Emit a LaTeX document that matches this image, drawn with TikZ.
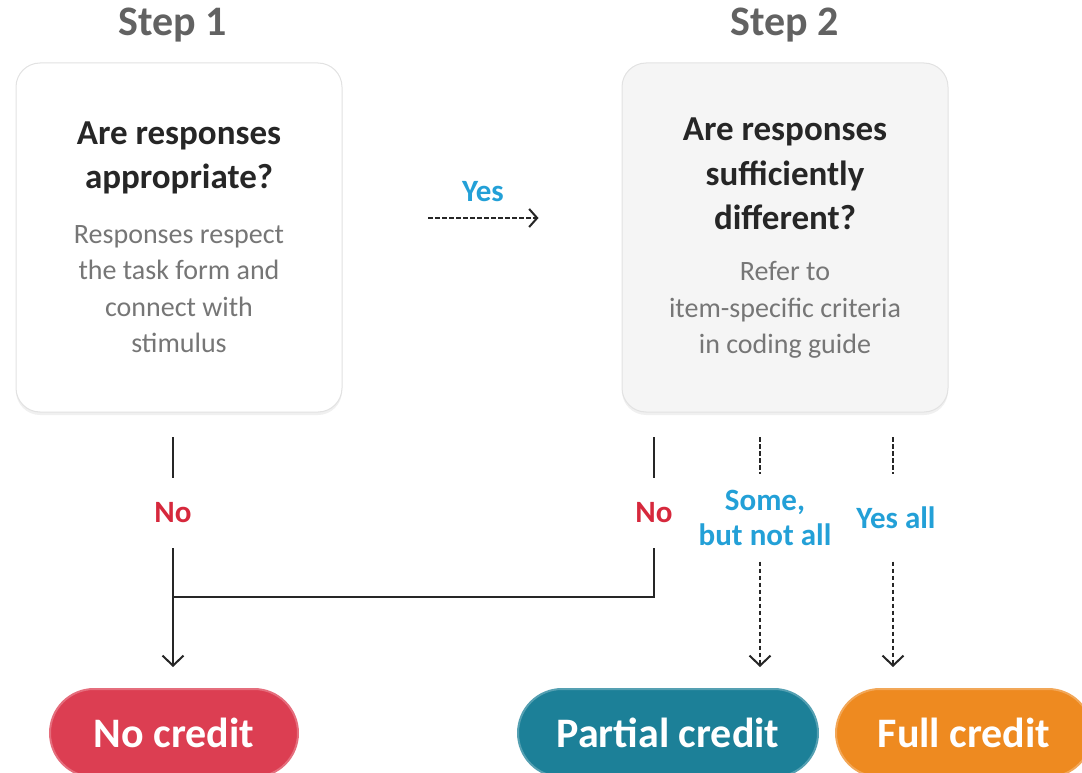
\documentclass[tikz,border=0pt]{standalone}
\usepackage{fontspec}
\setmainfont{Carlito}
\usetikzlibrary{arrows.meta,shadows,positioning}
\definecolor{ink}{RGB}{38,38,38}
\definecolor{steptxt}{RGB}{98,98,98}
\definecolor{bodytxt}{RGB}{118,118,118}
\definecolor{yesblue}{RGB}{35,160,215}
\definecolor{nored}{RGB}{214,40,60}
\definecolor{credred}{RGB}{220,62,82}
\definecolor{credteal}{RGB}{28,128,152}
\definecolor{credorange}{RGB}{238,138,32}
\definecolor{boxedge}{RGB}{226,226,226}
\definecolor{boxgray}{RGB}{245,245,245}

\begin{document}
\begin{tikzpicture}[x=1pt,y=-1pt,
  qbox/.style={draw=boxedge,line width=1pt,rounded corners=24pt,
     minimum width=326pt,minimum height=349pt,
     drop shadow={shadow xshift=0pt,shadow yshift=-3pt,opacity=0.12}},
  qtitle/.style={align=center,text=ink,font=\fontsize{35}{44.5}\selectfont\bfseries},
  qbody/.style={align=center,text=bodytxt,font=\fontsize{28}{36.5}\selectfont},
  steplab/.style={text=steptxt,font=\fontsize{42}{46}\selectfont\bfseries},
  nolab/.style={text=nored,font=\fontsize{31}{34}\selectfont\bfseries,
     inner sep=0pt,minimum height=70pt},
  oklab/.style={text=yesblue,align=center,font=\fontsize{31}{35}\selectfont\bfseries,
     inner sep=0pt,minimum height=87pt},
  pill/.style={rounded corners=44pt,minimum height=88pt,text=white,
     draw=white!25!#1,line width=2pt,fill=#1,
     font=\fontsize{42}{46}\selectfont\bfseries},
  solidln/.style={draw=ink,line width=2pt},
  dashln/.style={draw=ink,line width=2pt,dash pattern=on 4.5pt off 2.5pt},
  tip/.style={-{Straight Barb[length=10pt,width=21pt,line width=2pt]}},
  sidetip/.style={-{Straight Barb[length=8pt,width=18pt,line width=2pt]}}]
  \useasboundingbox (0,0) rectangle (1082,773);
  \clip (0,0) rectangle (1082,773);

  % steps and question boxes
  \node[steplab] (step1) at (173,25) {Step 1};
  \node[steplab] (step2) at (785,25) {Step 2};
  \node[qbox,fill=white] (q1) at (179,237.5) {};
  \node[qbox,fill=boxgray] (q2) at (785,237.5) {};
  \node[qtitle] (t1) at (179,158) {Are responses\\appropriate?};
  \node[qbody] (b1) at (179,289) {Responses respect\\the task form and\\connect with\\stimulus};
  \node[qtitle] (t2) at (785,174) {Are responses\\sufficiently\\different?};
  \node[qbody] (b2) at (785,310) {Refer to\\item-specific criteria\\in coding guide};

  % yes between the steps
  \node[oklab,minimum height=0pt] (yes) at (483,192) {Yes};
  \coordinate (ya) at (428,218);
  \draw[dashln,sidetip,shorten >=83pt] (ya) -- (ya -| q2.west);

  % branch labels
  \node[nolab] (no1) at (173,513) {No};
  \node[nolab] (no2) at (654,513) {No};
  \node[oklab] (some) at (765,518) {Some,\\but not all};
  \node[oklab] (yall) at (896,518) {Yes all};

  % outcomes
  \node[pill=credred,minimum width=248pt] (nocred) at (174,733) {No credit};
  \node[pill=credteal,minimum width=300pt] (partcred) at (668,733) {Partial credit};
  \node[pill=credorange,minimum width=256pt] (fullcred) at (964,733) {Full credit};

  % connectors
  \coordinate (s1) at (173,437);
  \coordinate (s2) at (654,437);
  \coordinate (s3) at (760,437);
  \coordinate (s4) at (893,437);
  \coordinate (jn) at (173,597);
  \draw[solidln] (s1) -- (s1 |- no1.north);
  \draw[solidln] (s2) -- (s2 |- no2.north);
  \draw[solidln,tip,shorten >=21pt] (s1 |- no1.south) -- (s1 |- nocred.north);
  \draw[solidln] (s2 |- no2.south) |- (jn);
  \draw[dashln] (s3) -- (s3 |- some.north);
  \draw[dashln] (s4) -- (s4 |- yall.north);
  \draw[dashln,tip,shorten >=21pt] (s3 |- some.south) -- (s3 |- partcred.north);
  \draw[dashln,tip,shorten >=21pt] (s4 |- yall.south) -- (s4 |- fullcred.north);
\end{tikzpicture}
\end{document}
